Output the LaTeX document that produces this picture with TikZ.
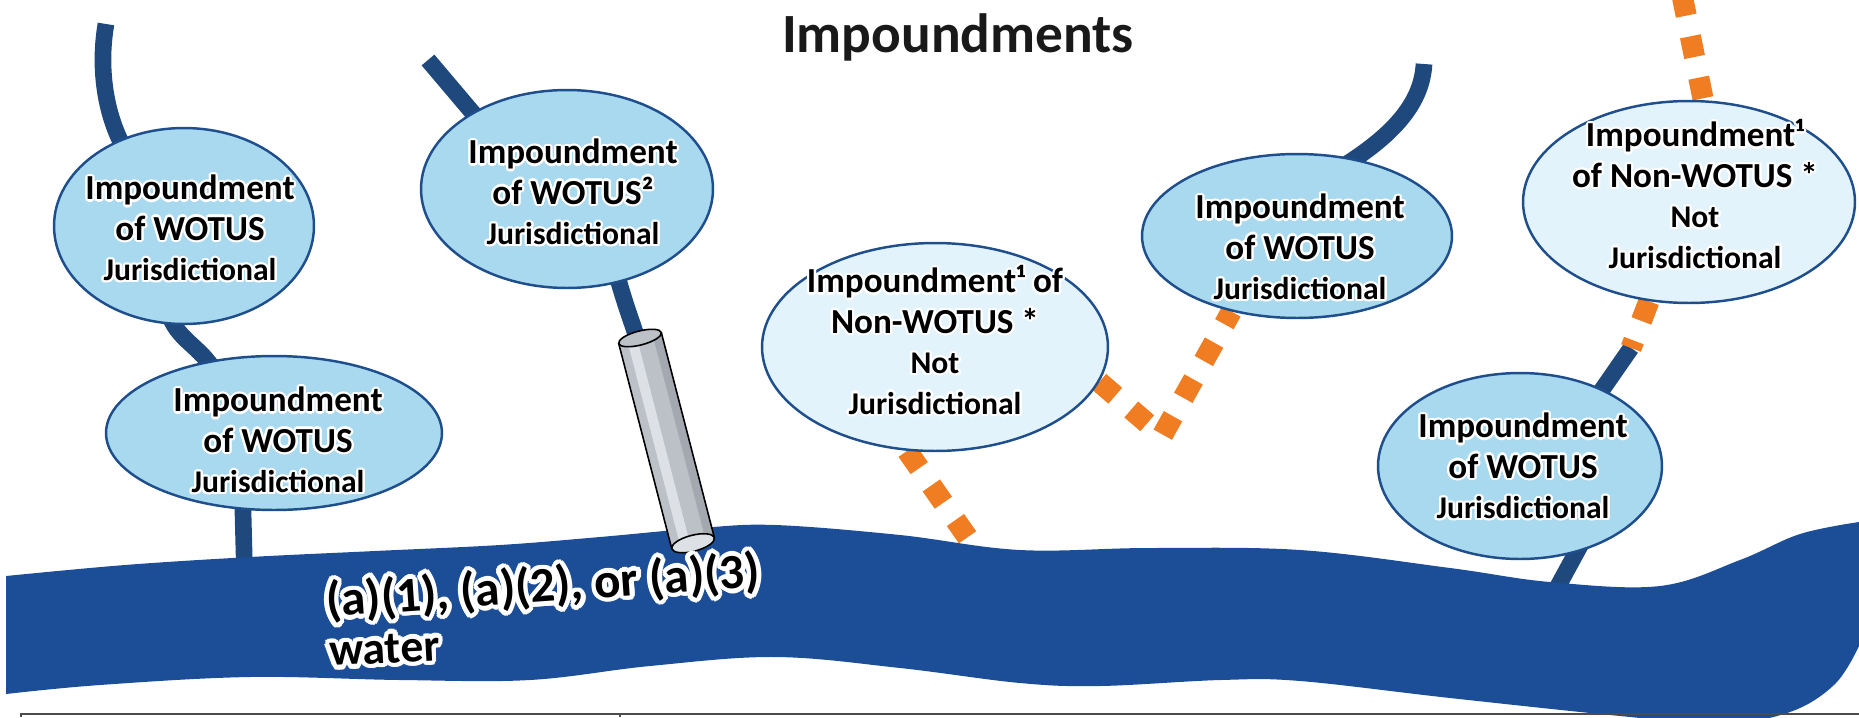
\documentclass[tikz,border=0pt]{standalone}
\usepackage{fontspec}
\setmainfont{Carlito}
\usetikzlibrary{shapes.geometric}
\definecolor{riverblue}{HTML}{1C4E98}
\definecolor{streamblue}{HTML}{1F497D}
\definecolor{edgeblue}{HTML}{1F4E8C}
\definecolor{jfill}{HTML}{A9D9EF}
\definecolor{nfill}{HTML}{E3F3FB}
\definecolor{dotorange}{HTML}{F07D22}
\definecolor{pipegray}{HTML}{BCC0C7}
\definecolor{pipelight}{HTML}{DDE0E4}
\definecolor{pipedark}{HTML}{A4A8B0}
\pgfdeclarelayer{streams}
\pgfdeclarelayer{river}
\pgfsetlayers{streams,river,main}
\newlength\glowr
\newcommand\glowcopy[2]{\rlap{\kern#1\raisebox{#2}{\color{white}\copy0}}}
\newcommand\glowline[2][1.3pt]{{\setlength\glowr{#1}\setbox0=\hbox{#2}%
\glowcopy{\glowr}{0pt}\glowcopy{-\glowr}{0pt}\glowcopy{0pt}{\glowr}\glowcopy{0pt}{-\glowr}%
\glowcopy{0.71\glowr}{0.71\glowr}\glowcopy{-0.71\glowr}{0.71\glowr}\glowcopy{0.71\glowr}{-0.71\glowr}\glowcopy{-0.71\glowr}{-0.71\glowr}%
\glowcopy{0.92\glowr}{0.38\glowr}\glowcopy{-0.92\glowr}{0.38\glowr}\glowcopy{0.92\glowr}{-0.38\glowr}\glowcopy{-0.92\glowr}{-0.38\glowr}%
\glowcopy{0.38\glowr}{0.92\glowr}\glowcopy{-0.38\glowr}{0.92\glowr}\glowcopy{0.38\glowr}{-0.92\glowr}\glowcopy{-0.38\glowr}{-0.92\glowr}%
\glowcopy{0.5\glowr}{0pt}\glowcopy{-0.5\glowr}{0pt}\glowcopy{0pt}{0.5\glowr}\glowcopy{0pt}{-0.5\glowr}%
\box0}}
\newcommand\jur{\fontsize{18}{23}\selectfont}
\begin{document}
\begin{tikzpicture}[x=0.02cm, y=-0.02cm,
  stream/.style={draw=streamblue, line width=9.5pt},
  dots/.style={draw=dotorange, line width=12pt, dash pattern=on 12pt off 12pt},
  juris/.style={ellipse, draw=edgeblue, line width=1.4pt, fill=jfill, inner sep=0pt},
  nonjuris/.style={ellipse, draw=edgeblue, line width=1.4pt, fill=nfill, inner sep=0pt},
  lbl/.style={align=center, text=black, font=\bfseries\fontsize{20}{23}\selectfont, inner sep=0pt},
  rivtxt/.style={text=black, font=\bfseries\fontsize{28}{30}\selectfont, inner sep=0pt},
  pipeline/.style={draw=black, line width=0.9pt}
]
\useasboundingbox (0,0) rectangle (1859,717);
\clip (0,0) rectangle (1859,717);

% ellipses
\node[juris, minimum width=5.2cm, minimum height=3.92cm] (e1) at (184,226) {};
\node[juris, minimum width=6.72cm, minimum height=3.08cm] (e2) at (274,433) {};
\node[juris, minimum width=5.84cm, minimum height=3.96cm] (e3) at (567,189) {};
\node[nonjuris, minimum width=6.92cm, minimum height=4.16cm] (e4) at (935,347) {};
\node[juris, minimum width=6.2cm, minimum height=3.28cm] (e5) at (1297,236) {};
\node[nonjuris, minimum width=6.64cm, minimum height=4.04cm] (e6) at (1689,202) {};
\node[juris, minimum width=5.68cm, minimum height=3.72cm] (e7) at (1520,466) {};

% free ends
\coordinate (s1top) at (106,24);
\coordinate (r1) at (245,590);
\coordinate (s2top) at (428,60);
\coordinate (pipein) at (641,350);
\coordinate (s5top) at (1424,64);
\coordinate (s7top) at (1631,348);
\coordinate (r7) at (1545,610);
\coordinate (o1end) at (975,548);
\coordinate (vbot) at (1162,436);
\coordinate (o3top) at (1682,-5);

\begin{pgfonlayer}{streams}
\draw[stream, shorten >=-8pt] (s1top) .. controls (98,70) and (106,118) .. (e1.127);
\draw[stream, shorten <=-8pt, shorten >=-8pt] (e1.263) .. controls (176,340) and (200,345) .. (e2.132);
\draw[stream, shorten <=-8pt] (e2.248) -- (r1);
\draw[stream, shorten >=-8pt] (s2top) -- (e3.141);
\draw[stream, shorten <=-8pt] (e3.299) .. controls (625,305) and (632,322) .. (pipein);
\draw[stream, shorten >=-8pt] (s5top) .. controls (1422,100) and (1398,132) .. (e5.53);
\draw[stream, shorten >=-8pt] (s7top) -- (e7.43);
\draw[stream, shorten <=-8pt] (e7.303) -- (r7);
\draw[dots] (e4.255) -- (o1end);
\draw[dots] (e4.-12) -- (vbot) -- (e5.229);
\draw[dots] (o3top) -- (e6.82);
\draw[dots] (e6.248) -- (s7top);
\end{pgfonlayer}

\begin{pgfonlayer}{river}
\fill[riverblue] plot[smooth, tension=0.6] coordinates {(6,576) (125,565) (250,557) (375,551) (500,545) (600,537) (700,528) (775,525) (900,535) (1020,550) (1150,548) (1300,550) (1450,568) (1550,582) (1660,586) (1740,560) (1800,534) (1859,522)}
 -- plot[smooth, tension=0.6] coordinates {(1859,646) (1835,684) (1790,712) (1720,724) (1620,716) (1450,698) (1300,681) (1221,680) (1100,686) (1020,683) (900,668) (775,657) (650,666) (530,680) (400,680) (250,677) (100,685) (6,694)} -- cycle;
\end{pgfonlayer}

% pipe
\begin{scope}[shift={(640,338)}, rotate=14.5]
\fill[pipegray] (-22,0) rectangle (22,212);
\fill[pipelight] (-13,0) rectangle (-3,212);
\fill[pipedark] (13,0) rectangle (22,212);
\draw[pipeline] (-22,0) -- (-22,212) (22,0) -- (22,212);
\draw[pipeline, fill=pipelight] (0,212) ellipse [x radius=22, y radius=8];
\draw[pipeline, fill=pipegray] (0,0) ellipse [x radius=22, y radius=7];
\end{scope}

% texts
\node[font=\bfseries\fontsize{31.5}{36}\selectfont, anchor=base, text=black!90] (title) at (958,52) {Impoundments};
\node[lbl] (t1) at (190,228) {\glowline{Impoundment}\\\glowline{of WOTUS}\\{\jur\glowline{Jurisdictional}}};
\node[lbl] (t2) at (278,440) {\glowline{Impoundment}\\\glowline{of WOTUS}\\{\jur\glowline{Jurisdictional}}};
\node[lbl] (t3) at (573,192) {\glowline{Impoundment}\\\glowline{of WOTUS²}\\{\jur\glowline{Jurisdictional}}};
\node[lbl, font=\bfseries\fontsize{20}{23}\selectfont] (t4) at (935,340) {\glowline{Impoundment¹ of}\\\glowline{Non-WOTUS *}\\{\jur\glowline{Not}}\\{\jur\glowline{Jurisdictional}}};
\node[lbl] (t5) at (1300,247) {\glowline{Impoundment}\\\glowline{of WOTUS}\\{\jur\glowline{Jurisdictional}}};
\node[lbl] (t6) at (1695,194) {\glowline{Impoundment¹}\\\glowline{of Non-WOTUS *}\\{\jur\glowline{Not}}\\{\jur\glowline{Jurisdictional}}};
\node[lbl] (t7) at (1523,466) {\glowline{Impoundment}\\\glowline{of WOTUS}\\{\jur\glowline{Jurisdictional}}};

\node[rivtxt, anchor=base west, rotate=4] (lab1) at (327,617) {\glowline[2.6pt]{(a)(1), (a)(2), or (a)(3)}};
\node[rivtxt, font=\bfseries\fontsize{26}{28}\selectfont, anchor=base west, rotate=3] (lab2) at (330,666) {\glowline[2.6pt]{water}};

% bottom rule
\draw[black!70, line width=0.8pt] (21,717) -- (21,714) -- (1859,714);
\draw[black!70, line width=0.8pt] (620,714) -- (620,717);
\end{tikzpicture}
\end{document}
